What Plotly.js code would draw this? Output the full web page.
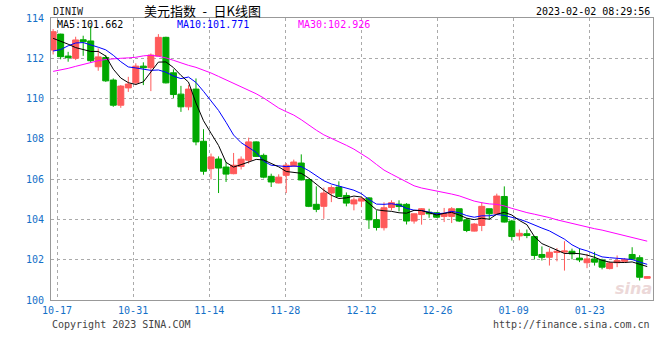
<!DOCTYPE html>
<html><head><meta charset="utf-8">
<script src="https://cdn.plot.ly/plotly-3.0.1.min.js"></script>
<style>html,body{margin:0;padding:0;background:#fff;}#chart{width:660px;height:360px;}</style>
</head><body><div id="chart"></div>
<script>
// ---- data (DINIW daily K, 2022-10-14 .. 2023-02-02) ----
const openP = [112.41,113.20,112.11,112.00,112.92,112.86,111.58,112.04,110.92,109.67,
110.53,110.78,111.61,111.53,112.11,113.04,111.28,110.22,109.59,110.47,
107.88,106.52,107.00,106.60,106.27,106.63,106.94,107.85,107.18,106.14,
105.81,106.19,106.65,106.80,105.98,104.75,104.65,105.31,105.61,105.19,
104.77,104.91,105.07,103.99,103.59,104.59,104.76,104.75,103.92,104.24,
104.36,104.33,104.15,104.15,104.53,103.98,103.42,103.70,104.53,104.28,
105.14,103.92,103.18,103.29,103.15,102.26,102.12,102.36,102.38,102.42,
102.08,101.85,102.04,101.98,101.56,101.85,101.92,102.26,102.10,101.08];
const highP = [113.45,113.22,112.32,113.07,113.12,113.62,112.49,112.16,111.00,110.67,
111.08,111.75,111.80,112.24,113.20,113.07,111.45,110.63,110.67,111.00,
108.48,107.27,107.13,106.85,107.30,107.13,108.06,107.88,107.27,106.27,
106.24,106.80,106.97,107.23,106.02,105.64,105.58,105.69,105.89,105.34,
105.09,105.14,105.11,104.45,104.85,104.95,104.95,104.81,104.30,104.56,
104.53,104.36,104.57,104.61,104.53,104.08,103.82,104.86,104.53,105.28,
105.64,103.98,103.50,103.50,103.18,102.66,102.57,102.58,102.92,102.55,
102.57,102.29,102.39,102.05,101.92,102.21,102.08,102.62,102.22,101.18];
const lowP = [112.19,111.95,111.83,111.91,112.12,111.78,111.38,110.83,109.59,109.54,
110.33,110.67,110.67,110.37,112.11,110.75,110.03,109.34,109.42,107.68,
106.22,105.99,105.31,105.86,106.24,106.48,106.77,107.11,106.04,105.61,
105.79,105.31,106.61,105.94,104.61,104.36,104.03,104.86,105.12,104.65,
104.45,104.61,103.53,103.45,103.45,104.45,104.40,103.75,103.79,103.74,
104.08,104.08,103.87,103.82,103.87,103.37,103.40,103.42,104.00,104.28,
103.85,102.95,102.96,103.07,102.01,101.96,101.71,101.92,101.46,102.02,
101.88,101.58,101.71,101.52,101.52,101.63,101.88,101.98,100.97,101.06];
const closeP = [113.32,112.08,112.03,112.91,112.82,111.88,112.07,110.88,109.67,110.62,
110.72,111.61,111.53,112.16,113.04,110.78,110.20,109.59,110.47,107.85,
106.39,107.10,106.55,106.25,106.69,106.99,107.85,107.13,106.10,105.86,
106.10,106.69,106.85,105.96,104.65,104.50,105.31,105.58,105.14,104.81,
104.97,105.03,103.98,103.60,104.58,104.83,104.64,103.92,104.28,104.53,
104.28,104.11,104.28,104.53,103.92,103.45,103.77,104.65,104.28,105.16,
103.87,103.15,103.31,103.20,102.21,102.12,102.37,102.42,102.43,102.29,
101.99,102.04,101.88,101.63,101.84,101.96,102.00,102.04,101.13,101.16];
const ma5 = [112.99,112.85,112.70,112.53,112.42,112.34,112.34,112.11,111.46,111.02,
110.79,110.70,110.83,111.33,111.81,111.82,111.54,111.15,110.82,109.78,
108.90,108.28,107.67,106.83,106.60,106.72,106.87,106.98,106.95,106.79,
106.61,106.38,106.32,106.29,106.05,105.73,105.45,105.20,105.04,105.07,
105.16,105.11,104.79,104.48,104.43,104.40,104.33,104.31,104.45,104.44,
104.33,104.22,104.30,104.35,104.22,104.06,103.99,104.06,104.01,104.26,
104.35,104.22,103.95,103.74,103.15,102.80,102.64,102.46,102.31,102.32,
102.30,102.23,102.12,101.97,101.88,101.87,101.86,101.89,101.79,101.66];
const ma10 = [112.36,112.43,112.62,112.76,112.78,112.68,112.55,112.42,112.15,111.83,
111.57,111.52,111.47,111.40,111.42,111.31,111.12,110.99,111.07,110.80,
110.36,109.91,109.41,108.82,108.19,107.81,107.57,107.33,106.89,106.69,
106.66,106.62,106.65,106.62,106.42,106.17,105.92,105.76,105.66,105.56,
105.45,105.28,104.99,104.76,104.75,104.78,104.72,104.55,104.46,104.44,
104.37,104.28,104.31,104.40,104.33,104.19,104.11,104.18,104.18,104.24,
104.20,104.11,104.01,103.88,103.71,103.57,103.43,103.21,103.02,102.74,
102.55,102.44,102.29,102.14,102.10,102.08,102.05,102.01,101.88,101.77];
const ma30 = [111.35,111.42,111.50,111.60,111.70,111.80,111.88,111.94,111.98,112.00,
112.02,112.05,112.12,112.15,112.10,112.02,111.90,111.76,111.65,111.55,
111.42,111.27,111.10,110.93,110.78,110.62,110.42,110.24,110.03,109.77,
109.53,109.35,109.18,108.95,108.67,108.43,108.20,108.03,107.88,107.68,
107.49,107.27,107.02,106.73,106.45,106.25,106.07,105.88,105.67,105.56,
105.49,105.39,105.32,105.26,105.17,105.05,104.91,104.83,104.77,104.75,
104.67,104.55,104.44,104.34,104.26,104.18,104.09,103.98,103.89,103.81,
103.71,103.61,103.54,103.47,103.38,103.28,103.20,103.13,103.03,102.92];
const dateLabels = ['10-17','10-31','11-14','11-28','12-12','12-26','01-09','01-23'];
const yTicks = [100,102,104,106,108,110,112,114];
const maLabels = ['MA5:101.662','MA10:101.771','MA30:102.926'];
const titleText = '美元指数\u2002-\u2002日K线图';
const symbolText = 'DINIW';
const stampText = '2023-02-02 08:29:56';

// ---- layout geometry ----
const W = 660, H = 360, L = 51, R = 7, T = 18, B = 60;
const barPx = 7.52;
const x0 = -0.28;
const xr = [x0, x0 + (W - L - R) / barPx];
const px = p => (p - L) / (W - L - R);
const py = p => (H - B - p) / (H - T - B);
const idx = closeP.map((_, i) => i);
const mono = 'DejaVu Sans Mono, monospace';
const tickBlue = '#1470c8';
const up = '#ff5a5a', down = '#00a800';

const traces = [
  {type:'candlestick', x: idx, open: openP, high: highP, low: lowP, close: closeP,
   increasing:{line:{color:up, width:1}, fillcolor:up},
   decreasing:{line:{color:down, width:1}, fillcolor:down},
   whiskerwidth:0, hoverinfo:'skip', showlegend:false},
  {type:'scatter', mode:'lines', x: idx, y: ma30, line:{color:'#ff00ff', width:1}, hoverinfo:'skip', showlegend:false},
  {type:'scatter', mode:'lines', x: idx, y: ma10, line:{color:'#0000ff', width:1}, hoverinfo:'skip', showlegend:false},
  {type:'scatter', mode:'lines', x: idx, y: ma5, line:{color:'#000000', width:1}, hoverinfo:'skip', showlegend:false}
];

const ann = (text, xp, yp, anchor, font) => ({text, x: px(xp), y: py(yp), xref:'paper', yref:'paper',
  xanchor: anchor, yanchor:'middle', showarrow:false, font});

const layout = {
  width: W, height: H,
  margin: {l: L, r: R, t: T, b: B, pad: 0},
  paper_bgcolor:'#ffffff', plot_bgcolor:'#ffffff',
  boxgap: 0, boxgroupgap: 0.2,
  xaxis: {type:'linear', range: xr, fixedrange:true, rangeslider:{visible:false},
    tickvals: dateLabels.map((_, k) => 0.52 + 10.12 * k), ticktext: dateLabels,
    showgrid:true, gridcolor:'#aaaaaa', griddash:'dot', gridwidth:1,
    zeroline:false, showline:true, mirror:true, linecolor:'#999999', linewidth:1,
    ticks:'', ticklabelstandoff: 1,
    tickfont:{family: mono, size: 10, color: tickBlue}},
  yaxis: {range:[100, 114], fixedrange:true, tickvals: yTicks, ticktext: yTicks.map(String),
    showgrid:true, gridcolor:'#aaaaaa', griddash:'dot', gridwidth:1,
    zeroline:false, showline:true, mirror:true, linecolor:'#999999', linewidth:1,
    ticks:'', ticklabelstandoff: 4,
    tickfont:{family: mono, size: 10, color: tickBlue}},
  annotations: [
    ann(symbolText, 51, 11.5, 'left', {family: mono, size: 10, color:'#222'}),
    ann(titleText, 202, 10.5, 'center', {family:'Noto Sans CJK SC', size: 13, color:'#000'}),
    ann(stampText, 652, 11.5, 'right', {family: mono, size: 10, color:'#000'}),
    ann(maLabels[0], 55, 24.5, 'left', {family: mono, size: 10, color:'#000000'}),
    ann(maLabels[1], 175, 24.5, 'left', {family: mono, size: 10, color:'#0000ff'}),
    ann(maLabels[2], 296, 24.5, 'left', {family: mono, size: 10, color:'#ff00ff'}),
    ann('sina', 633, 288, 'center', {family:'DejaVu Sans', size: 16, color:'#ecd8d8', weight: 'bold', style: 'italic'}),
    ann('Copyright 2023 SINA.COM', 50, 324, 'left', {family: mono, size: 10, color:'#444'}),
    ann('http://finance.sina.com.cn', 652, 324, 'right', {family: mono, size: 10, color:'#444'})
  ]
};

Plotly.newPlot('chart', traces, layout, {staticPlot: true, displayModeBar: false});
</script>
</body></html>
